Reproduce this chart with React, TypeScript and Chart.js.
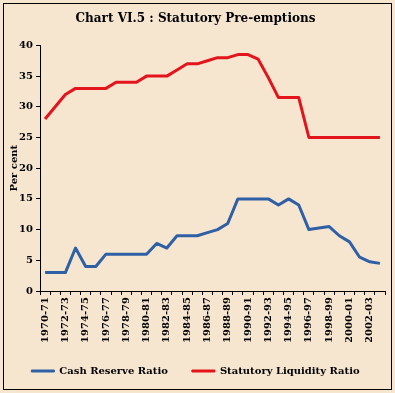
import React, { useEffect, useRef } from "react";
import { Chart, registerables } from "chart.js";

Chart.register(...registerables);

const categories = [
  "1970-71", "1971-72", "1972-73", "1973-74", "1974-75", "1975-76", "1976-77", "1977-78",
  "1978-79", "1979-80", "1980-81", "1981-82", "1982-83", "1983-84", "1984-85", "1985-86",
  "1986-87", "1987-88", "1988-89", "1989-90", "1990-91", "1991-92", "1992-93", "1993-94",
  "1994-95", "1995-96", "1996-97", "1997-98", "1998-99", "1999-00", "2000-01", "2001-02",
  "2002-03", "2003-04",
];

const cashReserveRatio = [
  3, 3, 3, 7, 4, 4, 6, 6, 6, 6, 6, 7.75, 7, 9, 9, 9, 9.5, 10, 11, 15, 15, 15, 15, 14,
  15, 14, 10, 10.25, 10.5, 9, 8, 5.5, 4.75, 4.5,
];

const statutoryLiquidityRatio = [
  28, 30, 32, 33, 33, 33, 33, 34, 34, 34, 35, 35, 35, 36, 37, 37, 37.5, 38, 38, 38.5,
  38.5, 37.75, 34.75, 31.5, 31.5, 31.5, 25, 25, 25, 25, 25, 25, 25, 25,
];

const yTicks = { min: 0, max: 40, step: 5 };

const BG = "#F6E6D0";
const FONT = "'DejaVu Serif', serif";

const backgroundPlugin = {
  id: "bgBox",
  beforeDraw(chart: any) {
    const ctx = chart.ctx;
    ctx.save();
    ctx.fillStyle = BG;
    ctx.fillRect(0, 0, chart.width, chart.height);
    ctx.strokeStyle = "#000";
    ctx.lineWidth = 1;
    ctx.strokeRect(3.5, 3.5, chart.width - 7, chart.height - 7);
    ctx.restore();
  },
};

export default function App() {
  const ref = useRef<HTMLCanvasElement | null>(null);

  useEffect(() => {
    if (!ref.current) return;
    const chart = new Chart(ref.current, {
      type: "line",
      data: {
        labels: categories,
        datasets: [
          {
            label: "Cash Reserve Ratio",
            data: cashReserveRatio,
            borderColor: "#2F60A6",
            backgroundColor: "#2F60A6",
            borderWidth: 3,
            pointRadius: 0,
            tension: 0,
            borderJoinStyle: "round",
          },
          {
            label: "Statutory Liquidity Ratio",
            data: statutoryLiquidityRatio,
            borderColor: "#E3141B",
            backgroundColor: "#E3141B",
            borderWidth: 3,
            pointRadius: 0,
            tension: 0,
            borderJoinStyle: "round",
          },
        ],
      },
      options: {
        responsive: false,
        animation: false,
        layout: { padding: { left: 6, right: 10, top: 0, bottom: 7 } },
        plugins: {
          title: {
            display: true,
            text: "Chart VI.5 : Statutory Pre-emptions",
            color: "#000",
            font: { family: FONT, size: 12, weight: "bold" },
            padding: { top: 12, bottom: 19 },
          },
          legend: {
            position: "bottom",
            labels: {
              color: "#000",
              font: { family: FONT, size: 10, weight: "bold" },
              boxWidth: 23,
              boxHeight: 2,
              padding: 24,
              generateLabels: (c: any) =>
                Chart.defaults.plugins.legend.labels
                  .generateLabels(c)
                  .map((l: any) => ({ ...l, lineWidth: 1 })),
            },
          },
          tooltip: { enabled: false },
        },
        scales: {
          x: {
            type: "category",
            offset: true,
            grid: {
              display: true,
              offset: true,
              drawOnChartArea: false,
              drawTicks: true,
              tickLength: 4,
              color: "#000",
            },
            border: { display: true, color: "#000", width: 1 },
            ticks: {
              autoSkip: false,
              maxRotation: 90,
              minRotation: 90,
              padding: 2,
              color: "#000",
              font: { family: FONT, size: 10, weight: "bold" },
              callback: (_v: any, i: number) => (i % 2 === 0 ? categories[i] : ""),
            },
            afterFit: (s: any) => {
              s.height = 51;
            },
          },
          y: {
            min: yTicks.min,
            max: yTicks.max,
            grid: {
              display: true,
              drawOnChartArea: false,
              drawTicks: true,
              tickLength: 4,
              color: "#000",
            },
            border: { display: true, color: "#000", width: 1 },
            ticks: {
              stepSize: yTicks.step,
              padding: 3,
              color: "#000",
              font: { family: FONT, size: 10, weight: "bold" },
            },
            title: {
              display: true,
              text: "Per cent",
              color: "#000",
              font: { family: FONT, size: 10, weight: "bold" },
              padding: 2,
            },
            afterFit: (s: any) => {
              s.width = 34;
            },
          },
        },
      },
      plugins: [backgroundPlugin],
    });
    return () => chart.destroy();
  }, []);

  return (
    <div style={{ position: "absolute", left: 0, top: 0, width: 395, height: 393 }}>
      <canvas ref={ref} width={395} height={393} style={{ display: "block" }} />
    </div>
  );
}
